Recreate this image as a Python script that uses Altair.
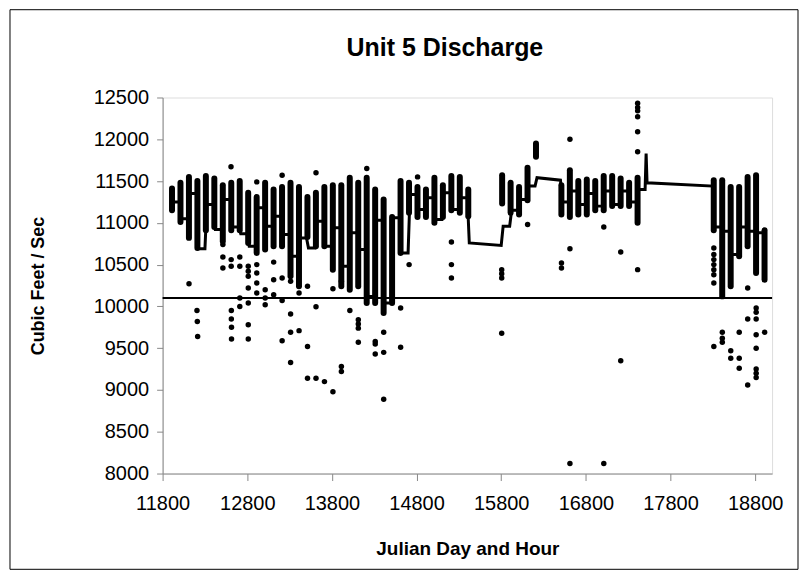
import altair as alt
import pandas as pd

FONT = "Liberation Sans"

# ---- data ----
# dense vertical stacks of hourly points, one per Julian day (day, lowest, highest)
stack_day = [119, 120, 121, 122, 123, 124, 125, 126, 127, 128, 129, 130, 131, 132, 133, 134,
             135, 136, 137, 138, 139, 140, 141, 142, 143, 144, 145, 146, 147, 148, 149, 150,
             151, 152, 153, 154, 158, 159, 160, 161, 162, 165, 166, 167, 168, 169, 170, 171,
             172, 173, 174, 183, 184, 185, 186, 187, 188, 189]
stack_lo = [11150, 11010, 10820, 10700, 10910, 10950, 10780, 10910, 10910, 10760, 10640, 10680,
            10720, 10720, 10360, 10240, 10830, 10720, 10720, 10440, 10240, 10200, 10240, 10040,
            10040, 9920, 10040, 10640, 11120, 11070, 11070, 11000, 11070, 11150, 11120, 11080,
            11230, 11120, 11100, 11270, 11790, 11100, 11070, 11100, 11100, 11150, 11150, 11200,
            11200, 11200, 11000, 10910, 10120, 10240, 10600, 10720, 10400, 10320]
stack_hi = [11410, 11480, 11550, 11500, 11560, 11530, 11450, 11480, 11500, 11360, 11310, 11480,
            11400, 11430, 11480, 11430, 11310, 11360, 11430, 11450, 11450, 11540, 11480, 11540,
            11400, 11280, 11070, 11500, 11480, 11430, 11400, 11540, 11450, 11560, 11550, 11400,
            11570, 11480, 11430, 11660, 11950, 11450, 11630, 11500, 11520, 11500, 11560, 11560,
            11530, 11480, 11540, 11510, 11510, 11430, 11430, 11550, 11570, 10910]

# scattered individual readings (Julian day*100 + hour, cfs)
pt_x = [12112, 12206, 12210, 12214, 12512, 12512, 12512, 12608, 12610, 12610, 12612, 12612, 12614,
        12614, 12712, 12712, 12712, 12712, 12812, 12812, 12812, 12812, 12812, 12812, 12812, 12912,
        12912, 12912, 12912, 12912, 13012, 13012, 13012, 13112, 13112, 13112, 13212, 13212, 13212,
        13212, 13312, 13312, 13312, 13312, 13412, 13412, 13512, 13512, 13512, 13612, 13612, 13612,
        13712, 13812, 13812, 13912, 13912, 13912, 14012, 14112, 14112, 14112, 14112, 14212, 14312,
        14312, 14312, 14412, 14412, 14412, 14612, 14612, 14712, 14812, 15212, 15212, 15212, 15806,
        15806, 15806, 15806, 16112, 16512, 16512, 16612, 16612, 16612, 17012, 17012, 17212, 17212,
        17412, 17412, 17412, 17412, 17412, 17412, 17412, 18312, 18312, 18312, 18312, 18312, 18312,
        18312, 18312, 18412, 18412, 18412, 18512, 18512, 18612, 18612, 18612, 18712, 18712, 18712,
        18812, 18812, 18812, 18812, 18812, 18812, 18812, 18812, 18912]
pt_y = [10270, 9950, 9820, 9640, 10740, 10590, 10460, 11670, 10560, 10480, 9950, 9850, 9750,
        9610, 10590, 10480, 10100, 10000, 10480, 10420, 10360, 10220, 10040, 9780, 9610, 11490,
        10500, 10400, 10280, 10160, 10200, 10100, 10020, 10530, 10320, 10140, 11570, 10340, 10070,
        9590, 10300, 9910, 9690, 9330, 10160, 9710, 10240, 9520, 9140, 11600, 9995, 9140,
        9100, 10210, 8980, 10300, 9280, 9220, 9950, 9840, 9790, 9740, 9570, 11650, 9580,
        9550, 9430, 9690, 9450, 8890, 9980, 9510, 10500, 11550, 10770, 10500, 10340, 10440,
        10390, 10340, 9680, 10980, 10520, 10460, 12000, 10690, 8120, 10950, 8120, 10650, 9350,
        12430, 12380, 12340, 12270, 12090, 11850, 10440, 10700, 10620, 10560, 10500, 10440, 10380,
        10280, 9520, 9690, 9620, 9570, 9470, 9380, 9690, 9380, 9260, 10220, 9850, 9060,
        9980, 9930, 9850, 9660, 9500, 9250, 9200, 9150, 9690]

# running discharge line
line_x = [11900, 11923, 12000, 12023, 12100, 12123, 12200, 12223, 12300, 12323, 12400, 12423,
          12500, 12523, 12600, 12623, 12700, 12723, 12800, 12823, 12900, 12923, 13000, 13023,
          13100, 13123, 13200, 13223, 13300, 13323, 13400, 13423, 13500, 13523, 13600, 13623,
          13700, 13723, 13800, 13823, 13900, 13923, 14000, 14023, 14100, 14123, 14200, 14223,
          14300, 14323, 14400, 14423, 14500, 14523, 14600, 14623, 14700, 14723, 14800, 14823,
          14900, 14923, 15000, 15023, 15100, 15123, 15200, 15223, 15300, 15323, 15400, 15423,
          15800, 15823, 15900, 15923, 16000, 16023, 16100, 16123, 16200, 16223, 16500, 16523,
          16600, 16623, 16700, 16723, 16800, 16823, 16900, 16923, 17000, 17023, 17100, 17123,
          17200, 17223, 17300, 17323, 17400, 17423, 17500, 17512, 17523, 18300, 18323, 18400,
          18423, 18500, 18523, 18600, 18623, 18700, 18723, 18800, 18823, 18900, 18923]
line_y = [11350, 11250, 11250, 11050, 11050, 11350, 11350, 10690, 10690, 11220, 11220, 10920,
          10920, 11280, 11280, 10950, 10950, 10870, 10870, 10720, 10720, 11180, 11180, 10960,
          10960, 11080, 11080, 10860, 10860, 10600, 10600, 10820, 10820, 10700, 10700, 11020,
          11020, 10720, 10720, 10940, 10940, 10480, 10480, 10880, 10880, 10680, 10680, 10120,
          10120, 11030, 11030, 10040, 10040, 11060, 11060, 10640, 10640, 11340, 11340, 11160,
          11160, 11300, 11300, 11040, 11040, 11360, 11360, 11160, 11160, 11300, 11300, 10760,
          10730, 10960, 10960, 11150, 11150, 11280, 11280, 11440, 11440, 11540, 11510, 11250,
          11250, 11380, 11380, 11220, 11220, 11350, 11350, 11200, 11200, 11380, 11380, 11220,
          11220, 11380, 11380, 11250, 11250, 11400, 11400, 11830, 11480, 11440, 10950, 10950,
          10900, 10900, 10620, 10620, 10950, 10950, 10900, 10900, 10880, 10880, 10560]

ref_level = [10100]

x_ticks = [11800, 12800, 13800, 14800, 15800, 16800, 17800, 18800]
y_ticks = [8000, 8500, 9000, 9500, 10000, 10500, 11000, 11500, 12000, 12500]

title_text = ["Unit 5 Discharge"]

# ---- chart ----
W, H = 611, 377
xs = alt.Scale(domain=[11800, 19000], nice=False, zero=False)
ys = alt.Scale(domain=[8000, 12500], nice=False, zero=False)

x_axis = alt.Axis(values=x_ticks, format="d", title="Julian Day and Hour", grid=False,
                  labelFontSize=20, titleFontSize=19, titleFontWeight="bold",
                  tickSize=7, labelPadding=13, titlePadding=26, labelFlush=False)
y_axis = alt.Axis(values=y_ticks, format="d", title="Cubic Feet / Sec", grid=False,
                  labelFontSize=20, titleFontSize=18, titleFontWeight="bold",
                  tickSize=6, labelPadding=8, titlePadding=46, labelFlush=False)

stack_df = pd.DataFrame({"x": [d * 100 + 11 for d in stack_day], "lo": stack_lo, "hi": stack_hi})
pt_df = pd.DataFrame({"x": pt_x, "y": pt_y})
line_df = pd.DataFrame({"x": line_x, "y": line_y, "o": list(range(len(line_x)))})
ref_df = pd.DataFrame({"y": ref_level})
title_df = pd.DataFrame({"t": title_text})

frame = alt.Chart(pd.DataFrame({"a": [0]})).mark_rect(
    fillOpacity=0, stroke="black", strokeWidth=1
).encode(x=alt.value(-153), x2=alt.value(637), y=alt.value(-88), y2=alt.value(473))

title = alt.Chart(title_df).mark_text(
    font=FONT, fontSize=25, fontWeight="bold", color="black", align="center", baseline="middle"
).encode(text="t:N", x=alt.value(283), y=alt.value(-50))

stacks = alt.Chart(stack_df).mark_rule(color="black", strokeWidth=6, strokeCap="round").encode(
    x=alt.X("x:Q", scale=xs, axis=x_axis),
    y=alt.Y("lo:Q", scale=ys, axis=y_axis),
    y2="hi:Q",
)

pts = alt.Chart(pt_df).mark_circle(color="black", size=30, opacity=1).encode(
    x=alt.X("x:Q", scale=xs, axis=x_axis),
    y=alt.Y("y:Q", scale=ys, axis=y_axis),
)

line = alt.Chart(line_df).mark_line(color="black", strokeWidth=3, strokeJoin="miter").encode(
    x=alt.X("x:Q", scale=xs, axis=x_axis),
    y=alt.Y("y:Q", scale=ys, axis=y_axis),
    order="o:Q",
)

ref = alt.Chart(ref_df).mark_rule(color="black", strokeWidth=2).encode(
    y=alt.Y("y:Q", scale=ys, axis=y_axis),
)

chart = alt.layer(frame, title, stacks, pts, line, ref).properties(
    width=W, height=H,
    padding={"left": 155, "top": 89, "right": 30, "bottom": 100},
    autosize=alt.AutoSizeParams(type="none"),
).configure_view(stroke="#888888", strokeWidth=1).configure_axis(
    labelFont=FONT, titleFont=FONT, labelColor="black", titleColor="black",
    domainColor="black", tickColor="black", domainWidth=1.5, tickWidth=1.5,
).configure(background="white")

chart.save("out.html", embed_options={"renderer": "svg", "actions": False})
